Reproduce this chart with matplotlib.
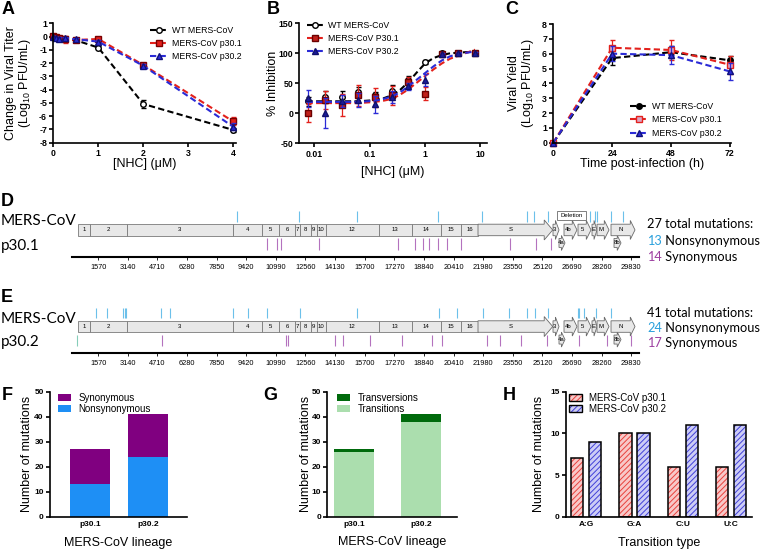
import matplotlib
matplotlib.use('Agg')
import matplotlib.pyplot as plt
from matplotlib.patches import Rectangle, Polygon, Patch
from matplotlib.lines import Line2D

W, H = 760, 551

plt.rcParams['font.family'] = ['Liberation Sans', 'DejaVu Sans']
plt.rcParams['axes.unicode_minus'] = False
plt.rcParams['mathtext.fontset'] = 'custom'
plt.rcParams['mathtext.rm'] = 'Liberation Sans'
plt.rcParams['mathtext.it'] = 'Liberation Sans:italic'
plt.rcParams['hatch.linewidth'] = 0.7
plt.rcParams['legend.numpoints'] = 1

# ---------------- data ----------------
# A: change in titer vs NHC dose
a_conc = [0, 0.0625, 0.125, 0.25, 0.5, 1, 2, 4]
a_wt = [0.0, -0.08, -0.12, -0.18, -0.28, -0.83, -5.08, -7.04]
a_wt_err = [0.08, 0.1, 0.1, 0.1, 0.1, 0.12, 0.3, 0.12]
a_p1 = [0.02, -0.05, -0.13, -0.2, -0.26, -0.18, -2.14, -6.4]
a_p1_err = [0.1, 0.12, 0.15, 0.25, 0.12, 0.15, 0.15, 0.3]
a_p2 = [-0.05, -0.1, -0.15, -0.12, -0.2, -0.38, -2.2, -6.8]
a_p2_err = [0.08, 0.1, 0.12, 0.12, 0.1, 0.12, 0.15, 0.25]

# B: % inhibition
b_conc = [0.0078125, 0.015625, 0.03125, 0.0625, 0.125, 0.25, 0.5, 1, 2, 4, 8]
b_wt = [20, 27, 28, 36, 30, 38, 55, 86, 100, 100, 100]
b_wt_err = [8, 10, 10, 8, 6, 10, 8, 3, 2, 2, 2]
b_p1 = [0, 22, 14, 30, 27, 30, 52, 33, 99, 100, 100]
b_p1_err = [15, 15, 18, 18, 16, 16, 8, 11, 2, 2, 2]
b_p2 = [25, 0, 20, 22, 15, 28, 45, 56, 99, 100, 100]
b_p2_err = [14, 25, 10, 12, 14, 10, 6, 10, 2, 2, 2]
# fitted curves
b_fit_x = [0.0072, 0.0625, 0.125, 0.177, 0.25, 0.354, 0.5, 0.707, 1, 1.41, 2, 2.83, 4, 5.66, 8]
b_fit_wt = [20, 20, 22, 25, 30, 39, 52, 68, 83, 92, 97, 100, 101, 102, 102]
b_fit_p1 = [17, 17, 19, 21, 24, 31, 40, 51, 62, 73, 83, 91, 96, 101, 106]
b_fit_p2 = [19, 19, 21, 24, 28, 35, 45, 56, 67, 78, 88, 95, 99, 101, 103]

# C: growth kinetics
c_time = [0, 24, 48, 72]
c_wt = [0.0, 5.7, 6.1, 5.55]
c_wt_err = [0.05, 0.45, 0.4, 0.3]
c_p1 = [0.0, 6.4, 6.25, 5.25]
c_p1_err = [0.05, 0.5, 0.65, 0.6]
c_p2 = [0.0, 6.0, 5.9, 4.8]
c_p2_err = [0.05, 0.5, 0.6, 0.6]

# D/E: genome map (nt)
nsp_labels = ['1', '2', '3', '4', '5', '6', '7', '8', '9', '10', '12', '13', '14', '15', '16']
nsp_start = [519, 1140, 3085, 8703, 10240, 11157, 12005, 12270, 12837, 13155, 13632, 16457, 18190, 19742, 20803]
nsp_end = [1140, 3085, 8703, 10240, 11157, 12005, 12270, 12837, 13155, 13632, 16457, 18190, 19742, 20803, 21704]
orf_labels = ['S', '3', '4a', '4b', '5', 'E', 'M', '8b', 'N']
orf_start = [21704, 25679, 25997, 26262, 27004, 27746, 28011, 28912, 28753]
orf_end = [25663, 25997, 26315, 26950, 27693, 28011, 28647, 29283, 30025]
orf_lower = [False, False, True, False, False, False, False, True, False]
genome_ticks = [1570, 3140, 4710, 6280, 7850, 9420, 10990, 12560, 14130, 15700,
                17270, 18840, 20410, 21980, 23550, 25120, 26690, 28260, 29830]

d_nonsyn = [8930, 12217, 15290, 19583, 21915, 24300, 24671, 25413, 27640, 27904, 28010, 28752, 29388]
d_syn = [10505, 11035, 11263, 13292, 17479, 18365, 18804, 19122, 19568, 20045, 20787, 23400, 24762, 25573]
d_deletion = [25870, 27430]
e_nonsyn = [1442, 2056, 2873, 2968, 3048, 4887, 5380, 8734, 9529, 10536, 12270, 15306,
            19652, 20606, 21953, 23362, 24316, 24709, 25429, 26977, 27057, 27337, 27958, 28753]
e_syn = [4940, 11528, 11607, 14125, 14533, 15980, 17660, 19281, 19811, 22196, 22860,
         23973, 25376, 27072, 28525, 29813]
e_noncoding = [435]

# F, G, H
lineages = ['p30.1', 'p30.2']
f_nonsyn = [13, 24]
f_syn = [14, 17]
g_transitions = [26, 38]
g_transversions = [1, 3]
h_types = ['A:G', 'G:A', 'C:U', 'U:C']
h_p1 = [7, 10, 6, 6]
h_p2 = [9, 10, 11, 11]

RED = '#e3211c'
BLUE = '#2b2bd6'
NS_BLUE = '#6cc0ea'
S_PURPLE = '#b472be'

fig = plt.figure(figsize=(W / 100, H / 100), dpi=100)


def px_axes(left, top, right, bottom):
    return fig.add_axes([left / W, 1 - bottom / H, (right - left) / W, (bottom - top) / H])


def ylabel_at(ax, text, x_px, size=9):
    pos = ax.get_position()
    ax.set_ylabel(text, fontsize=size, linespacing=1.05)
    ax.yaxis.label.set_va('center')
    ax.yaxis.set_label_coords((x_px / W - pos.x0) / pos.width, 0.5)


def xlabel_at(ax, text, y_px, size=9):
    pos = ax.get_position()
    ax.set_xlabel(text, fontsize=size)
    ax.xaxis.label.set_va('center')
    ax.xaxis.set_label_coords(0.5, ((1 - y_px / H) - pos.y0) / pos.height)


def gp_style(ax):
    for s in ['top', 'right']:
        ax.spines[s].set_visible(False)
    for s in ['left', 'bottom']:
        ax.spines[s].set_linewidth(1.2)
    ax.tick_params(width=1.2, length=3, labelsize=6.3, pad=1.5)


def letter(x_px, y_px, s):
    fig.text(x_px / W, 1 - y_px / H, s, fontsize=13, fontweight='bold', va='center', ha='left')


def legend_at(ax, handles, labels, x_px, y_px, size=6.3, **kw):
    ax.legend(handles, labels, loc='upper left', bbox_to_anchor=(x_px / W, 1 - y_px / H),
              bbox_transform=fig.transFigure, frameon=False, fontsize=size,
              borderaxespad=0, borderpad=0, **kw)


# ---------------- A ----------------
ax = px_axes(53.3, 23.3, 235.5, 142.7)
gp_style(ax)
series = [(a_wt, a_wt_err, 'k', dict(marker='o', mfc='white', mec='k')),
          (a_p1, a_p1_err, RED, dict(marker='s', mfc=RED, mec='#7a0000')),
          (a_p2, a_p2_err, BLUE, dict(marker='^', mfc=BLUE, mec='#10107a'))]
handles = []
for vals, err, col, mk in series:
    ax.errorbar(a_conc, vals, yerr=err, fmt='none', ecolor=col, elinewidth=0.9, capsize=1.8, clip_on=False)
    h, = ax.plot(a_conc, vals, ls=(0, (3, 1.6)), color=col, lw=1.5, ms=4, mew=1, clip_on=False, **mk)
    handles.append(h)
ax.set_xlim(0, 4.05)
ax.set_ylim(-8, 1)
ax.set_xticks([0, 1, 2, 3, 4], ['0', '1', '2', '3', '4'], fontweight='bold')
ax.set_yticks(range(-8, 2), [str(v) for v in range(-8, 2)], fontweight='bold')
ylabel_at(ax, 'Change in Viral Titer\n(Log$_{10}$ PFU/mL)', 19)
xlabel_at(ax, '[NHC] (\u03bcM)', 164)
legend_at(ax, handles, ['WT MERS-CoV', 'MERS-CoV p30.1', 'MERS-CoV p30.2'], 150, 26,
          handlelength=2.1, handletextpad=0.45, labelspacing=0.45)
letter(2, 10, 'A')

# ---------------- B ----------------
ax = px_axes(299.3, 23.3, 486.7, 143.3)
gp_style(ax)
ax.set_xscale('log')
series = [(b_wt, b_wt_err, b_fit_wt, 'k', dict(marker='o', mfc='white', mec='k')),
          (b_p1, b_p1_err, b_fit_p1, RED, dict(marker='s', mfc='#c0201a', mec='#6a0000')),
          (b_p2, b_p2_err, b_fit_p2, BLUE, dict(marker='^', mfc='#1a1a9a', mec='#10106a'))]
handles = []
for vals, err, fit, col, mk in series:
    ax.plot(b_fit_x, fit, ls=(0, (3, 1.6)), color=col, lw=1.5)
    ax.errorbar(b_conc, vals, yerr=err, fmt='none', ecolor=col, elinewidth=0.9, capsize=1.8)
    ax.plot(b_conc, vals, ls='none', ms=4, mew=1, **mk)
    handles.append(Line2D([], [], ls=(0, (3, 1.6)), color=col, lw=1.5, ms=4, mew=1, **mk))
ax.set_xlim(0.00533, 13)
ax.set_ylim(-50, 150)
ax.set_xticks([0.01, 0.1, 1, 10], ['0.01', '0.1', '1', '10'], fontweight='bold')
ax.xaxis.set_minor_locator(matplotlib.ticker.NullLocator())
ax.set_yticks([-50, 0, 50, 100, 150], ['-50', '0', '50', '100', '150'], fontweight='bold')
ylabel_at(ax, '% Inhibition', 273)
xlabel_at(ax, '[NHC] (\u03bcM)', 172)
legend_at(ax, handles, ['WT MERS-CoV', 'MERS-CoV P30.1', 'MERS-CoV P30.2'], 307, 21,
          handlelength=1.9, handletextpad=0.5, labelspacing=0.45)
letter(267, 10, 'B')

# ---------------- C ----------------
ax = px_axes(553.3, 24, 731.2, 142.7)
gp_style(ax)
series = [(c_wt, c_wt_err, 'k', dict(marker='o', mfc='k', mec='k')),
          (c_p1, c_p1_err, RED, dict(marker='s', mfc='#d9a6c6', mec=RED)),
          (c_p2, c_p2_err, BLUE, dict(marker='^', mfc=BLUE, mec='#10107a'))]
handles = []
for vals, err, col, mk in series:
    ax.errorbar(c_time, vals, yerr=err, fmt='none', ecolor=col, elinewidth=0.9, capsize=1.8, clip_on=False)
    h, = ax.plot(c_time, vals, ls=(0, (3, 1.6)), color=col, lw=1.5, ms=4, mew=1, clip_on=False, **mk)
    handles.append(h)
ax.set_xlim(0, 72.5)
ax.set_ylim(0, 8)
ax.set_xticks([0, 24, 48, 72], ['0', '24', '48', '72'], fontweight='bold')
ax.set_yticks(range(0, 9), [str(v) for v in range(0, 9)], fontweight='bold')
ylabel_at(ax, 'Viral Yield\n(Log$_{10}$ PFU/mL)', 522)
xlabel_at(ax, 'Time post-infection (h)', 164)
legend_at(ax, handles, ['WT MERS-CoV', 'MERS-CoV p30.1', 'MERS-CoV p30.2'], 630, 102,
          handlelength=2.0, handletextpad=0.5, labelspacing=0.5)
letter(505, 10, 'C')

# ---------------- D / E genome maps ----------------
NT_PER_PX = 53.0
BAR_LO, BAR_HI = 21, 32.5
BAR_C = (BAR_LO + BAR_HI) / 2


def arrow_poly(s, e, yc, body, head, hl):
    hl = min(hl, 0.6 * (e - s))
    return [(s, yc - body), (e - hl, yc - body), (e - hl, yc - head), (e, yc),
            (e - hl, yc + head), (e - hl, yc + body), (s, yc + body)], hl


def genome(axis_px, nonsyn, syn, noncoding=(), deletion=None):
    ax = px_axes(68.5, axis_px - 57, 640, axis_px)
    ax.set_xlim(0, (640 - 68.5) * NT_PER_PX)
    ax.set_ylim(0, 57)
    for s in ['top', 'right', 'left']:
        ax.spines[s].set_visible(False)
    ax.spines['bottom'].set_linewidth(1.5)
    ax.spines['bottom'].set_bounds(170, 30236)
    ax.set_yticks([])
    ax.set_xticks(genome_ticks, [str(t) for t in genome_ticks])
    ax.tick_params(axis='x', labelsize=5.3, length=2.5, width=0.6, pad=2.5)
    for s, e, lab in zip(nsp_start, nsp_end, nsp_labels):
        ax.add_patch(Rectangle((s, BAR_LO), e - s, BAR_HI - BAR_LO, fc='#e8e8e8', ec='#7a7a7a', lw=0.6))
        ax.text((s + e) / 2, BAR_C, lab, fontsize=4.3, ha='center', va='center')
    for s, e, lab, low in zip(orf_start, orf_end, orf_labels, orf_lower):
        if low:
            pts, hl = arrow_poly(s, e, BAR_C - 13, 4.5, 7.5, 200)
        elif e - s > 2000:
            pts, hl = arrow_poly(s, e, BAR_C, 5.75, 10, 450)
        else:
            pts, hl = arrow_poly(s, e, BAR_C, 5.75, 9.5, 250)
        ax.add_patch(Polygon(pts, closed=True, fc='#e8e8e8', ec='#6a6a6a', lw=0.6, zorder=3))
        yc = BAR_C - 13 if low else BAR_C
        ax.text((s + e - hl) / 2 + (60 if low else 0), yc, lab, fontsize=4.3, ha='center', va='center', zorder=4)
    ax.vlines(nonsyn, 35, 45.5, color=NS_BLUE, lw=0.8)
    ax.vlines(syn, 7, 18.5, color=S_PURPLE, lw=0.8)
    if noncoding:
        ax.vlines(noncoding, 7, 18.5, color='#86cdb9', lw=0.8)
    if deletion is not None:
        ax.add_patch(Rectangle((deletion[0], 36.7), deletion[1] - deletion[0], 9,
                               fc='white', ec='#6a6a6a', lw=0.6, zorder=3))
        ax.text(sum(deletion) / 2, 41.2, 'Deletion', fontsize=4.3, ha='center', va='center', zorder=4)
    return ax


side_font = dict(family=['Lato', 'DejaVu Sans'])
SIDE = 9.2
NAME = 11


def two_tone(x_px, y_px, num, word, color, size=SIDE):
    t = fig.text(x_px / W, 1 - y_px / H, num, color=color, fontsize=size, va='center', **side_font)
    fig.add_artist(matplotlib.text.Annotation(word, xy=(1, 0), xycoords=t, va='bottom', ha='left',
                                              fontsize=size, **side_font))


genome(256.7, d_nonsyn, d_syn, deletion=d_deletion)
fig.text(1 / W, 1 - 221 / H, 'MERS-CoV', fontsize=NAME, va='center', **side_font)
fig.text(1 / W, 1 - 246 / H, 'p30.1', fontsize=NAME, va='center', **side_font)
fig.text(647 / W, 1 - 224 / H, '27 total mutations:', fontsize=SIDE, va='center', **side_font)
two_tone(647, 240.7, '13', ' Nonsynonymous', '#2aa0dc')
two_tone(647, 257, '14', ' Synonymous', '#9d3fa0')
letter(1, 201, 'D')

genome(353.3, e_nonsyn, e_syn, noncoding=e_noncoding)
fig.text(1 / W, 1 - 319 / H, 'MERS-CoV', fontsize=NAME, va='center', **side_font)
fig.text(1 / W, 1 - 342 / H, 'p30.2', fontsize=NAME, va='center', **side_font)
fig.text(647 / W, 1 - 313 / H, '41 total mutations:', fontsize=SIDE, va='center', **side_font)
two_tone(647, 328.3, '24', ' Nonsynonymous', '#2aa0dc')
two_tone(647, 343.3, '17', ' Synonymous', '#9d3fa0')
letter(1, 298, 'E')


# ---------------- F ----------------
def bar_axes(left, right, top, ymax, yticks):
    ax = px_axes(left, top, right, 516.7)
    gp_style(ax)
    ax.set_ylim(0, ymax)
    ax.set_yticks(yticks, [str(v) for v in yticks], fontweight='bold', fontsize=6)
    ax.tick_params(axis='x', length=0, pad=3)
    return ax


ax = bar_axes(50, 186.7, 391.7, 50, [0, 10, 20, 30, 40, 50])
xf = range(len(lineages))
b1 = ax.bar(xf, f_nonsyn, width=0.68, color='#1e8ff5')
b2 = ax.bar(xf, f_syn, bottom=f_nonsyn, width=0.68, color='#800080')
ax.set_xlim(-0.68, 1.66)
ax.set_xticks(list(xf), lineages, fontweight='bold', fontsize=6)
ylabel_at(ax, 'Number of mutations', 27)
xlabel_at(ax, 'MERS-CoV lineage', 543)
legend_at(ax, [b2, b1], ['Synonymous', 'Nonsynonymous'], 58, 393, size=7,
          handlelength=1.3, handleheight=0.7, handletextpad=0.8, labelspacing=0.1)
letter(2, 396, 'F')

# ---------------- G ----------------
ax = bar_axes(327.3, 456.7, 391.7, 50, [0, 10, 20, 30, 40, 50])
b1 = ax.bar(xf, g_transitions, width=0.6, color='#abdeae')
b2 = ax.bar(xf, g_transversions, bottom=g_transitions, width=0.6, color='#006a0c')
ax.set_xlim(-0.4, 1.53)
ax.set_xticks(list(xf), lineages, fontweight='bold', fontsize=6)
ylabel_at(ax, 'Number of mutations', 306)
xlabel_at(ax, 'MERS-CoV lineage', 542)
legend_at(ax, [b2, b1], ['Transversions', 'Transitions'], 337, 393, size=7,
          handlelength=1.3, handleheight=0.7, handletextpad=0.8, labelspacing=0.1)
letter(263, 396, 'G')

# ---------------- H ----------------
ax = bar_axes(565.7, 752, 391.7, 15, [0, 5, 10, 15])
xh = list(range(len(h_types)))
off, bw = 0.186, 0.255
p1x = [x - off for x in xh]
p2x = [x + off for x in xh]
ax.bar(p1x, h_p1, width=bw, color='#f8c8c8', edgecolor='#e8413c', hatch='//////', lw=0)
ax.bar(p1x, h_p1, width=bw, fill=False, edgecolor='k', lw=1.1)
ax.bar(p2x, h_p2, width=bw, color='#ccccf6', edgecolor='#4040d8', hatch='//////', lw=0)
ax.bar(p2x, h_p2, width=bw, fill=False, edgecolor='k', lw=1.1)
ax.set_xlim(-0.42, 3.43)
ax.set_xticks(xh, h_types, fontweight='bold', fontsize=6)
ylabel_at(ax, 'Number of mutations', 539)
xlabel_at(ax, 'Transition type', 543)
hp1 = (Patch(fc='#f8c8c8', ec='#e8413c', hatch='//////', lw=0), Patch(fill=False, ec='k', lw=1.0))
hp2 = (Patch(fc='#ccccf6', ec='#4040d8', hatch='//////', lw=0), Patch(fill=False, ec='k', lw=1.0))
legend_at(ax, [hp1, hp2], ['MERS-CoV p30.1', 'MERS-CoV p30.2'], 569, 393, size=7,
          handlelength=1.3, handleheight=0.7, handletextpad=0.8, labelspacing=0.1)
letter(503, 396, 'H')

fig.savefig('out.png', dpi=100)
